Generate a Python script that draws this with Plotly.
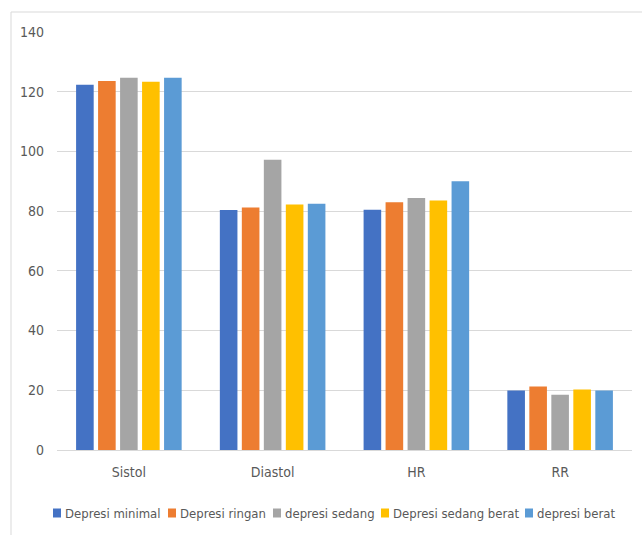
import plotly.graph_objects as go

categories = ["Sistol", "Diastol", "HR", "RR"]
series_names = ["Depresi minimal", "Depresi ringan", "depresi sedang", "Depresi sedang berat", "depresi berat"]
depresi_minimal = [122.3, 80.4, 80.5, 19.9]
depresi_ringan = [123.6, 81.2, 83.0, 21.3]
depresi_sedang = [124.7, 97.2, 84.4, 18.5]
depresi_sedang_berat = [123.3, 82.2, 83.6, 20.3]
depresi_berat = [124.7, 82.5, 90.0, 19.9]
colors = ["#4472C4", "#ED7D31", "#A5A5A5", "#FFC000", "#5B9BD5"]
y_ticks = [0, 20, 40, 60, 80, 100, 120, 140]

values = [depresi_minimal, depresi_ringan, depresi_sedang, depresi_sedang_berat, depresi_berat]

FONT = "DejaVu Sans Condensed, DejaVu Sans, Arial"

# plot area geometry (pixels)
W, H = 642, 535
L, T, PW, PH = 57, 32, 575, 418
B = H - T - PH
R = W - L - PW


def px(x):
    return (x - L) / PW


def py(y):
    return (T + PH - y) / PH


fig = go.Figure()
for name, vals, col in zip(series_names, values, colors):
    fig.add_trace(go.Bar(name=name, x=categories, y=vals, showlegend=False,
                         marker=dict(color=col, line=dict(width=0))))

# legend drawn as swatches + text (one row, like the reference)
legend_swatch_x = [53, 168, 273, 381, 525]
legend_y = 513
shapes = [dict(type="rect", xref="paper", yref="paper",
               x0=px(11), x1=px(660), y0=py(560), y1=py(12),
               line=dict(color="#D9D9D9", width=1), fillcolor="rgba(0,0,0,0)", layer="below")]
annotations = []
for name, col, sx in zip(series_names, colors, legend_swatch_x):
    shapes.append(dict(type="rect", xref="paper", yref="paper",
                       x0=px(sx), x1=px(sx + 8), y0=py(legend_y + 4.5), y1=py(legend_y - 4.5),
                       line=dict(width=0), fillcolor=col))
    annotations.append(dict(text=name, xref="paper", yref="paper", x=px(sx + 10), y=py(legend_y),
                            xanchor="left", yanchor="middle", showarrow=False,
                            font=dict(family=FONT, size=13, color="#595959")))

fig.update_layout(
    width=W, height=H,
    margin=dict(l=L, r=R, t=T, b=B, autoexpand=False),
    paper_bgcolor="white", plot_bgcolor="white",
    barmode="group", bargap=0.235, bargroupgap=0.2,
    font=dict(family=FONT, size=14, color="#595959"),
    showlegend=False,
    xaxis=dict(showgrid=False, showline=False, zeroline=False, ticks="",
               ticklabelstandoff=12, tickfont=dict(size=14)),
    yaxis=dict(range=[0, 140], tickvals=y_ticks, showgrid=True, gridcolor="#D9D9D9",
               gridwidth=1, zeroline=True, zerolinecolor="#D9D9D9", zerolinewidth=1,
               showline=False, ticks="", ticklabelstandoff=12, tickfont=dict(size=14)),
    shapes=shapes,
    annotations=annotations,
)

fig.write_html("out.html")
